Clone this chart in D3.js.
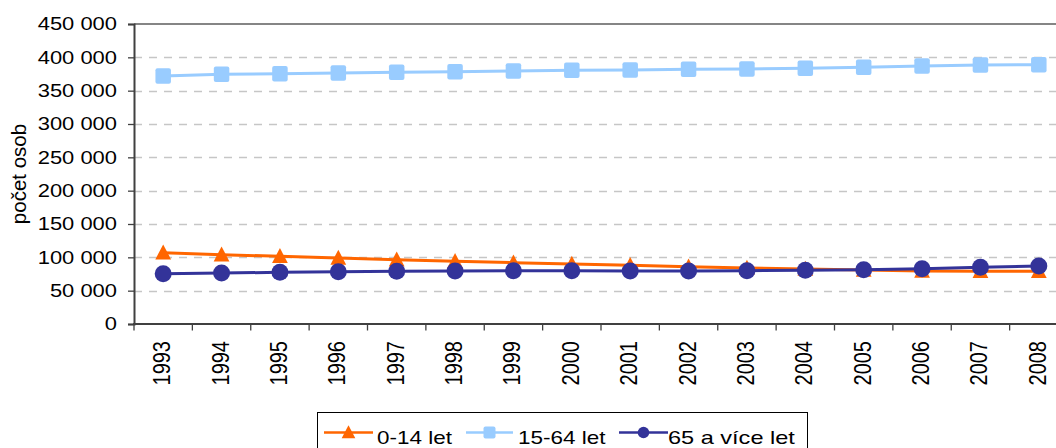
<!DOCTYPE html>
<html>
<head>
<meta charset="utf-8">
<script src="https://cdn.jsdelivr.net/npm/d3@7"></script>
<style>
  body { margin: 0; background: #fff; }
  text { font-family: "Liberation Sans", Arial, sans-serif; fill: #000; }
</style>
</head>
<body>
<div id="chart"></div>
<script>
// chart data
const years = ["1993", "1994", "1995", "1996", "1997", "1998", "1999", "2000",
               "2001", "2002", "2003", "2004", "2005", "2006", "2007", "2008"];
const kids = [107000, 104000, 101500, 99000, 96500, 94000, 92000, 90000,
              88000, 86000, 84000, 82500, 81000, 79500, 79000, 79000];
const adults = [372000, 374500, 375500, 376500, 377500, 378500, 379500, 380500,
                381000, 382000, 382500, 383500, 385000, 387000, 388500, 389000];
const seniors = [75500, 76500, 77500, 78500, 79000, 79500, 80000, 80000,
                 79500, 79500, 80000, 80500, 81500, 83000, 85000, 87000];
const yTicks = [0, 50000, 100000, 150000, 200000, 250000, 300000, 350000, 400000, 450000];
const seriesNames = ["0-14 let", "15-64 let", "65 a více let"];

const svgWidth = 1056, svgHeight = 448;
const margin = { top: 24, left: 134 };
const plotWidth = 934, plotHeight = 300;
const sx = 1.24; // the original picture is stretched sideways

const svg = d3.select("#chart").append("svg")
  .attr("width", svgWidth)
  .attr("height", svgHeight);

const x = d3.scaleBand().domain(years).range([margin.left, margin.left + plotWidth]);
const y = d3.scaleLinear().domain([0, 450000]).range([margin.top + plotHeight, margin.top]);

const fmt = d3.formatLocale({ decimal: ",", thousands: "\u00a0", grouping: [3], currency: ["", ""] }).format(",");

// dashed grid lines
svg.append("g")
  .selectAll("line")
  .data(yTicks.filter(d => d > 0 && d < 450000))
  .enter().append("line")
  .attr("x1", margin.left).attr("x2", svgWidth)
  .attr("y1", d => Math.round(y(d)) + 0.5).attr("y2", d => Math.round(y(d)) + 0.5)
  .attr("stroke", "#c6c6c6")
  .attr("stroke-width", 1.3)
  .attr("stroke-dasharray", "8,7");

// top border of the plot area
svg.append("line")
  .attr("x1", margin.left).attr("x2", svgWidth)
  .attr("y1", margin.top).attr("y2", margin.top)
  .attr("stroke", "#858585").attr("stroke-width", 2);

// y axis
const leftAxis = d3.axisLeft(y).tickValues(yTicks).tickSize(6).tickFormat("");
const yAxis = svg.append("g")
  .attr("transform", `translate(${margin.left},0)`)
  .call(leftAxis);
yAxis.select(".domain").attr("stroke", "#404040").attr("stroke-width", 2);
yAxis.selectAll(".tick line").attr("stroke", "#404040").attr("stroke-width", 1.3);

svg.append("g").selectAll("text")
  .data(yTicks)
  .enter().append("text")
  .attr("transform", d => `translate(117,${y(d) + 6.3}) scale(${sx},1)`)
  .attr("text-anchor", "end")
  .style("font-size", "17.7px")
  .text(d => fmt(d));

// x axis, ticks between the categories
svg.append("line")
  .attr("x1", margin.left - 1).attr("x2", svgWidth)
  .attr("y1", y(0)).attr("y2", y(0))
  .attr("stroke", "#404040").attr("stroke-width", 2);
svg.append("g").selectAll("line")
  .data(years.concat(["end"]))
  .enter().append("line")
  .attr("x1", (d, i) => margin.left + i * x.bandwidth())
  .attr("x2", (d, i) => margin.left + i * x.bandwidth())
  .attr("y1", y(0)).attr("y2", y(0) + 6.5)
  .attr("stroke", "#404040").attr("stroke-width", 1.3);

svg.append("g").selectAll("text")
  .data(years)
  .enter().append("text")
  .attr("transform", d => `translate(${x(d) + x.bandwidth() / 2 + 7},341) scale(1.16,1) rotate(-90)`)
  .attr("text-anchor", "end")
  .style("font-size", "20px")
  .text(d => d);

// y axis title
svg.append("text")
  .attr("transform", `translate(26,${margin.top + plotHeight / 2}) rotate(-90)`)
  .attr("text-anchor", "middle")
  .style("font-size", "20.5px")
  .text("počet osob");

const cx = (d, i) => x(years[i]) + x.bandwidth() / 2;
const line = d3.line().x(cx).y(d => y(d));

// series marker shapes
function drawMarker(g, kind, px, py, size, color) {
  if (kind === "tri") {
    const h = size, w = size * 1.05;
    g.append("path")
      .attr("d", `M${px},${py - h * 0.55}L${px + w / 2},${py + h * 0.45}L${px - w / 2},${py + h * 0.45}Z`)
      .attr("fill", color);
  } else if (kind === "sq") {
    g.append("rect")
      .attr("x", px - size / 2).attr("y", py - size / 2)
      .attr("width", size).attr("height", size)
      .attr("rx", 2)
      .attr("fill", color);
  } else {
    g.append("circle")
      .attr("cx", px).attr("cy", py).attr("r", size / 2)
      .attr("fill", color);
  }
}

const series = [
  { name: seriesNames[0], values: kids, color: "#ff6600", kind: "tri", size: 15 },
  { name: seriesNames[1], values: adults, color: "#99ccff", kind: "sq", size: 15.5 },
  { name: seriesNames[2], values: seniors, color: "#333399", kind: "dot", size: 17 }
];

series.forEach(function(s) {
  const g = svg.append("g");
  g.append("path")
    .attr("d", line(s.values))
    .attr("fill", "none")
    .attr("stroke", s.color)
    .attr("stroke-width", 3);
  s.values.forEach(function(v, i) {
    drawMarker(g, s.kind, cx(v, i), y(v), s.size, s.color);
  });
});

// legend
const legend = svg.append("g");
legend.append("rect")
  .attr("x", 317.5).attr("y", 412.5)
  .attr("width", 490).attr("height", 40)
  .attr("fill", "#fff")
  .attr("stroke", "#000").attr("stroke-width", 1);

const legendItems = [
  { x1: 324, x2: 373, text: 377, size: 13, sx: 1.27 },
  { x1: 466, x2: 513, text: 518, size: 12, sx: 1.27 },
  { x1: 619, x2: 668, text: 668, size: 11.5, sx: 1.33 }
];
series.forEach(function(s, i) {
  const it = legendItems[i];
  const ly = 432.5;
  legend.append("line")
    .attr("x1", it.x1).attr("x2", it.x2)
    .attr("y1", ly).attr("y2", ly)
    .attr("stroke", s.color).attr("stroke-width", 2.5);
  drawMarker(legend, s.kind, (it.x1 + it.x2) / 2, ly, it.size, s.color);
  legend.append("text")
    .attr("transform", `translate(${it.text},444) scale(${it.sx},1)`)
    .style("font-size", "17.7px")
    .text(s.name);
});
</script>
</body>
</html>
